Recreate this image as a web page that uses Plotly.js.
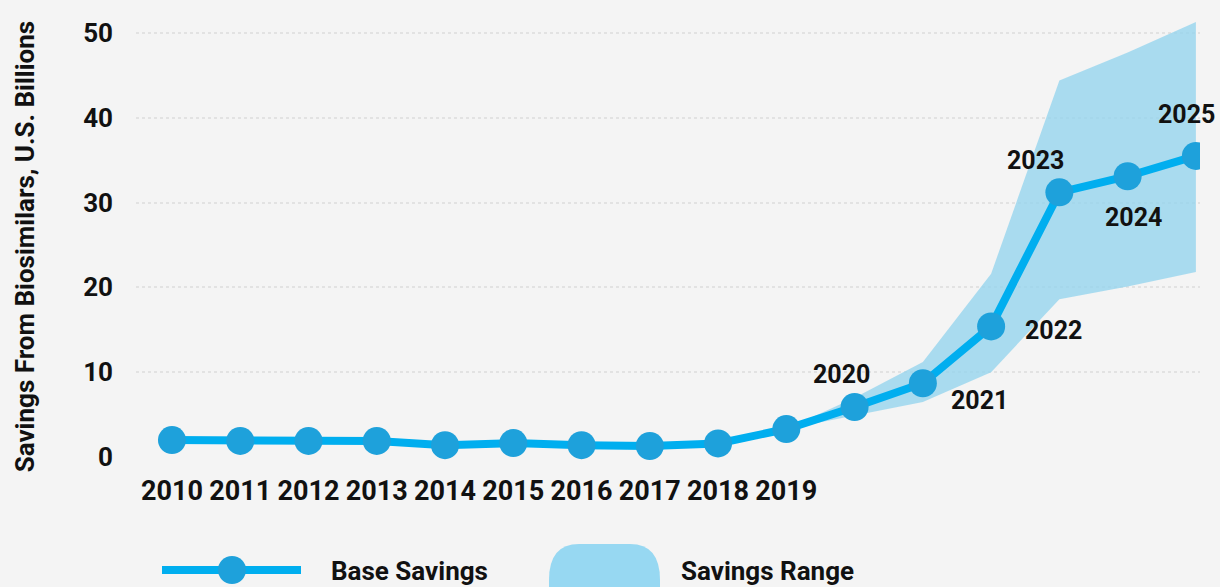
<!DOCTYPE html>
<html>
<head>
<meta charset="utf-8">
<script src="https://cdn.plot.ly/plotly-3.0.1.min.js"></script>
<style>
  html, body { margin: 0; padding: 0; background: #f4f4f4; }
  #chart { width: 1220px; height: 587px; }
</style>
</head>
<body>
<div id="chart"></div>
<script>
// data ------------------------------------------------------------
const years = [2010,2011,2012,2013,2014,2015,2016,2017,2018,2019,2020,2021,2022,2023,2024,2025];
const baseSavings = [2.0,1.9,1.9,1.9,1.4,1.65,1.4,1.3,1.6,3.3,5.9,8.7,15.4,31.2,33.1,35.5];
const rangeYears = [2019,2020,2021,2022,2023,2024,2025];
const rangeUpper = [3.3,7.0,11.2,21.6,44.4,47.7,51.3];
const rangeLower = [3.3,4.9,6.5,10.0,18.6,20.1,21.8];
const axisTickYears = [2010,2011,2012,2013,2014,2015,2016,2017,2018,2019];
const yTicks = [0,10,20,30,40,50];
// labels drawn next to points (year, x shift, y shift)
const pointLabels = [
    [2020,-13,32],
    [2021,57,-17],
    [2022,62,-4],
    [2023,-24,32],
    [2024,6,-41],
    [2025,-9,41]
];

const LINE_BLUE = '#00aeef';
const MARKER_BLUE = '#1ea1db';
const BAND_BLUE = 'rgba(144,211,238,0.75)';
const BG = '#f4f4f4';
const FONT = 'Roboto, "Open Sans", sans-serif';

// traces ----------------------------------------------------------
let band = {
    type: 'scatter',
    x: rangeYears.concat(rangeYears.slice().reverse()),
    y: rangeUpper.concat(rangeLower.slice().reverse()),
    fill: 'toself',
    fillcolor: BAND_BLUE,
    line: { width: 0, color: BAND_BLUE },
    mode: 'lines',
    name: 'Savings Range',
    hoverinfo: 'skip'
};
let base = {
    type: 'scatter',
    x: years,
    y: baseSavings,
    mode: 'lines+markers',
    name: 'Base Savings',
    line: { color: LINE_BLUE, width: 8 },
    marker: { color: MARKER_BLUE, size: 28 }
};

// annotations -----------------------------------------------------
let annotations = pointLabels.map(p => {
    let i = years.indexOf(p[0]);
    return {
        x: years[i], y: baseSavings[i], xref: 'x', yref: 'y',
        text: '<b>' + p[0] + '</b>', showarrow: false,
        xshift: p[1], yshift: p[2],
        font: { family: FONT, size: 25, color: '#111' }
    };
});
// y axis title
annotations.push({
    xref: 'paper', yref: 'paper', x: -0.104, y: 0.487,
    xanchor: 'center', yanchor: 'middle',
    text: '<b>Savings From Biosimilars, U.S. Billions</b>',
    textangle: -90, showarrow: false,
    font: { family: FONT, size: 26, color: '#111' }
});
// legend texts
const plotL = 136, plotW = 1064, plotT = 10, plotH = 460;
function px(x){ return (x - plotL) / plotW; }
function py(y){ return (plotT + plotH - y) / plotH; }
annotations.push({
    xref: 'paper', yref: 'paper', x: px(329), y: py(571),
    xanchor: 'left', yanchor: 'middle',
    text: '<b>Base Savings</b>', showarrow: false,
    font: { family: FONT, size: 26, color: '#111' }
});
annotations.push({
    xref: 'paper', yref: 'paper', x: px(679), y: py(571),
    xanchor: 'left', yanchor: 'middle',
    text: '<b>Savings Range</b>', showarrow: false,
    font: { family: FONT, size: 26, color: '#111' }
});

// legend symbols --------------------------------------------------
let shapes = [
    { type: 'line', xref: 'paper', yref: 'paper',
      x0: px(162), x1: px(301), y0: py(570), y1: py(570),
      line: { color: LINE_BLUE, width: 8 }, layer: 'above' },
    { type: 'circle', xref: 'paper', yref: 'paper',
      x0: px(218), x1: px(246), y0: py(556), y1: py(584),
      fillcolor: MARKER_BLUE, line: { width: 0 }, layer: 'above' },
    { type: 'path', xref: 'paper', yref: 'paper', layer: 'above',
      fillcolor: '#97d8f2', line: { width: 0 },
      path: (function(){
          // rounded box for the range symbol
          let x0 = px(549), x1 = px(660), r = 30 / plotW, ry = 36 / plotH;
          let yt = py(544), yb = py(600);
          return 'M ' + (x0 + r) + ' ' + yt +
                 ' L ' + (x1 - r) + ' ' + yt +
                 ' Q ' + x1 + ' ' + yt + ' ' + x1 + ' ' + (yt - ry) +
                 ' L ' + x1 + ' ' + yb +
                 ' L ' + x0 + ' ' + yb +
                 ' L ' + x0 + ' ' + (yt - ry) +
                 ' Q ' + x0 + ' ' + yt + ' ' + (x0 + r) + ' ' + yt + ' Z';
      })() }
];

let layout = {
    width: 1220, height: 587,
    paper_bgcolor: BG, plot_bgcolor: BG,
    margin: { l: plotL, r: 1220 - plotL - plotW, t: plotT, b: 587 - plotT - plotH },
    showlegend: false,
    xaxis: {
        range: [2009.473, 2025.06],
        tickvals: axisTickYears,
        ticktext: axisTickYears.map(y => '<b>' + y + '</b>'),
        tickfont: { family: FONT, size: 27, color: '#111' },
        showgrid: false, zeroline: false, showline: false,
        ticks: '', ticklabelstandoff: 2,
        fixedrange: true
    },
    yaxis: {
        range: [-1.53, 52.7],
        tickvals: yTicks,
        ticktext: yTicks.map(v => '<b>' + v + '</b>'),
        tickfont: { family: FONT, size: 26, color: '#111' },
        showgrid: true, gridcolor: '#e2e2e2', gridwidth: 2, griddash: 'dot',
        zeroline: true, zerolinecolor: BG, zerolinewidth: 3,
        showline: false, ticks: '', ticklabelstandoff: 22,
        fixedrange: true
    },
    annotations: annotations,
    shapes: shapes
};

Plotly.newPlot('chart', [band, base], layout, { displayModeBar: false, staticPlot: true });
</script>
</body>
</html>
